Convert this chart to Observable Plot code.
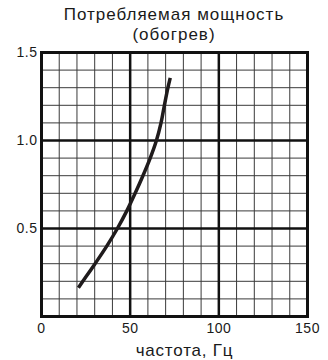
<!DOCTYPE html>
<html>
<head>
<meta charset="utf-8">
<script src="https://cdn.jsdelivr.net/npm/d3@7"></script>
<script src="https://cdn.jsdelivr.net/npm/@observablehq/plot@0.6"></script>
<style>
  html, body { margin: 0; padding: 0; background: #fff; }
  #title { width: 308px; padding-left: 20px; padding-top: 5px; text-align: center;
    font: 17px "Liberation Sans", Arial, sans-serif; line-height: 20px; letter-spacing: 1px; color: #1a1a1a; }
  svg { display: block; }
  #chart g[aria-label="x-axis tick label"] text,
  #chart g[aria-label="y-axis tick label"] text { letter-spacing: 0.5px; }
  #chart g[aria-label="text"] text { letter-spacing: 0.8px; }
</style>
</head>
<body>
<div id="title">Потребляемая мощность<br>(обогрев)</div>
<div id="chart"></div>
<script>
const freq  = [20.8, 23.3, 30.2, 36.8, 42.8, 48.1, 52.8, 57.2, 61.3, 64.8, 67.4, 69.3, 71.3, 72.6];
const power = [0.163, 0.2, 0.3, 0.4, 0.5, 0.6, 0.7, 0.8, 0.9, 1.0, 1.1, 1.2, 1.3, 1.356];
const xTicks = [0, 50, 100, 150];
const yTicks = [0.5, 1.0, 1.5];
const xMinor = [10, 20, 30, 40, 60, 70, 80, 90, 110, 120, 130, 140];
const yMinor = [0.1, 0.2, 0.3, 0.4, 0.6, 0.7, 0.8, 0.9, 1.1, 1.2, 1.3, 1.4];
const xMajor = [50, 100];
const yMajor = [0.5, 1.0];
const xLabel = "частота, Гц";

const data = freq.map((f, i) => ({f, p: power[i]}));

const chart = Plot.plot({
  width: 328,
  height: 315,
  marginLeft: 41,
  marginRight: 21,
  marginTop: 7,
  marginBottom: 44,
  style: {fontFamily: "'Liberation Sans', Arial, sans-serif", fontSize: "14px", color: "#1a1a1a", background: "#fff"},
  x: {domain: [0, 150]},
  y: {domain: [0, 1.5]},
  marks: [
    Plot.ruleX(xMinor, {stroke: "#3a3a3a", strokeWidth: 1}),
    Plot.ruleY(yMinor, {stroke: "#3a3a3a", strokeWidth: 1}),
    Plot.ruleX(xMajor, {stroke: "#111", strokeWidth: 2.5}),
    Plot.ruleY(yMajor, {stroke: "#111", strokeWidth: 2.5}),
    Plot.frame({stroke: "#111", strokeWidth: 3}),
    Plot.axisX({ticks: xTicks, tickSize: 0, tickPadding: 7, label: null, fontSize: 14}),
    Plot.axisY({ticks: yTicks, tickSize: 0, tickPadding: 4, tickFormat: d3.format(".1f"), label: null, fontSize: 14}),
    Plot.line(data, {x: "f", y: "p", curve: "catmull-rom", stroke: "#1f1b1c", strokeWidth: 3.5, strokeLinecap: "butt"}),
    Plot.text([xLabel], {frameAnchor: "bottom", dy: 34, dx: 10, fontSize: 17, lineAnchor: "middle", fill: "#1a1a1a"})
  ]
});
document.getElementById("chart").appendChild(chart);
</script>
</body>
</html>
